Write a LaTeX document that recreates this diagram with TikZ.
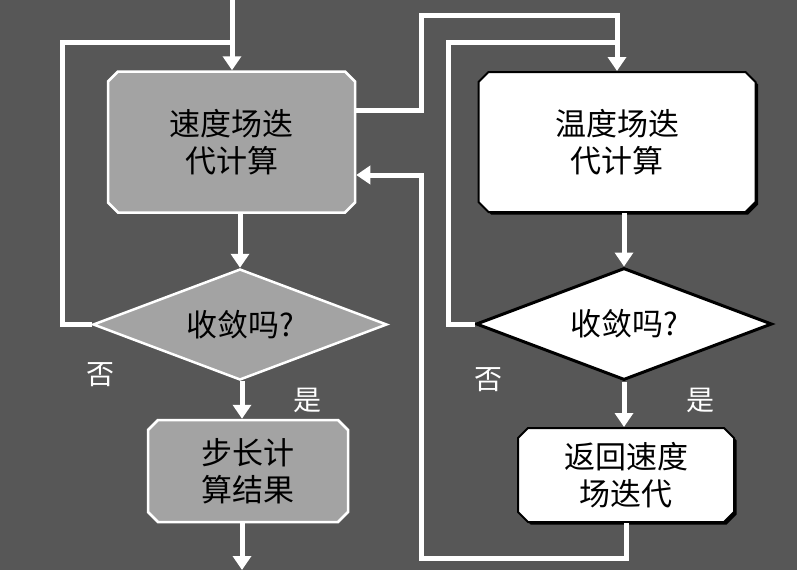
\documentclass[tikz,border=0pt]{standalone}
\usepackage{fontspec}
\newfontfamily\cjk{Noto Sans CJK SC}
\usetikzlibrary{shapes.geometric,shapes.misc,shadows,arrows.meta}
\definecolor{bg}{HTML}{575757}
\definecolor{boxgray}{HTML}{A3A3A3}

\begin{document}
\begin{tikzpicture}[x=1pt,y=-1pt,font=\cjk\fontsize{31}{37}\selectfont,
  graybox/.style={chamfered rectangle,chamfered rectangle xsep=5pt,chamfered rectangle ysep=5pt,fill=boxgray,draw=white,line width=2.5pt,inner sep=0pt,align=center},
  whitebox/.style={chamfered rectangle,chamfered rectangle xsep=5pt,chamfered rectangle ysep=5pt,fill=white,draw=black,line width=2pt,inner sep=0pt,align=center,drop shadow={shadow xshift=2.5pt,shadow yshift=-2.5pt,fill=black,opacity=1}},
  graydia/.style={diamond,aspect=2.6,fill=boxgray,draw=white,line width=2.5pt,inner sep=0pt,minimum width=294pt,minimum height=111pt},
  whitedia/.style={diamond,aspect=2.6,fill=white,draw=black,line width=3pt,inner sep=0pt,minimum width=296pt,minimum height=112pt},
  wire/.style={draw=white,line width=5pt},
  flow/.style={wire,-{Triangle[width=18pt,length=14pt]}},
  tag/.style={text=white,font=\cjk\fontsize{28}{30}\selectfont}]
\useasboundingbox (0,0) rectangle (797,570);
\fill[bg] (0,0) rectangle (797,570);

\node[graybox,minimum width=247pt,minimum height=141pt] (v1) at (231.5,142) {速度场迭\\代计算};
\node[whitebox,minimum width=277pt,minimum height=140pt] (v2) at (617,142) {温度场迭\\代计算};
\node[graydia] (d1) at (240,324.5) {收敛吗?};
\node[whitedia] (d2) at (624,324) {收敛吗?};
\node[graybox,minimum width=200pt,minimum height=102pt] (b3) at (248,471) {步长计\\算结果};
\node[whitebox,minimum width=216pt,minimum height=94pt] (b4) at (626,475) {返回速度\\场迭代};

\node[tag] (no1) at (100,375) {否};
\node[tag] (yes1) at (307,400) {是};
\node[tag] (no2) at (488,380) {否};
\node[tag] (yes2) at (700,400) {是};

\coordinate (in) at (232,0);
\coordinate (out) at (242,570);
\coordinate (la) at (62,42);
\coordinate (ua) at (421,15);
\coordinate (ub) at (421,110);
\coordinate (ib) at (448,42);
\coordinate (ra) at (421,558);
\coordinate (rb) at (421,175);

\draw[flow] (in) -- (in |- v1.north);
\draw[wire] (d1.west) -| (la) -- (la -| in);
\draw[flow] (v1.south -| d1.north) -- (d1.north);
\draw[flow] (d1.south -| out) -- (out |- b3.north);
\draw[flow] (b3.south -| out) -- (out);
\draw[flow] (ub -| v1.east) -- (ub) -- (ua) -| (v2.north);
\draw[wire] (d2.west) -| (ib) -- (ib -| v2.north);
\draw[flow] (v2.south -| d2.north) -- (d2.north);
\draw[flow] (d2.south) -- (d2.south |- b4.north);
\draw[flow] (b4.south) |- (ra) -- (rb) -- (rb -| v1.east);
\end{tikzpicture}
\end{document}
